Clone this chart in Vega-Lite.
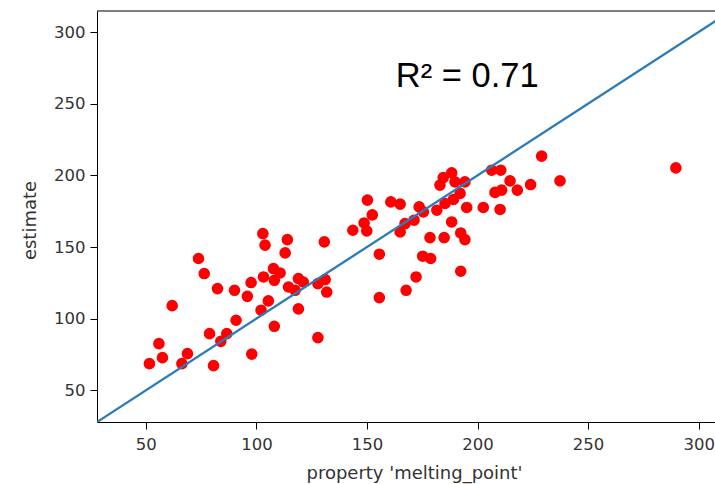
{
  "$schema": "https://vega.github.io/schema/vega-lite/v6.json",
  "width": 618,
  "height": 411,
  "autosize": {"type": "none"},
  "padding": {"left": 97, "top": 11, "right": 0, "bottom": 62},
  "background": "white",
  "config": {
    "view": {"stroke": null},
    "axis": {
      "grid": false,
      "domainColor": "black",
      "domainWidth": 1,
      "tickColor": "black",
      "tickWidth": 1,
      "tickSize": 7,
      "labelColor": "#333333",
      "labelFont": "DejaVu Sans",
      "labelFontSize": 16.5,
      "titleColor": "#333333",
      "titleFont": "DejaVu Sans",
      "titleFontSize": 18,
      "titleFontWeight": "normal"
    },
    "axisX": {"labelPadding": 7, "titleX": 317, "titleY": 56, "titleBaseline": "alphabetic", "titleAlign": "center"},
    "axisY": {"labelPadding": 5, "titleX": -62, "titleY": 209, "titleAngle": 270, "titleBaseline": "alphabetic", "titleAlign": "center"}
  },
  "layer": [
    {
      "data": {"values": [
        {"x":73.8,"y":142.0},{"x":76.4,"y":131.5},{"x":82.4,"y":121.0},{"x":90.1,"y":119.8},{"x":61.9,"y":109.1},
        {"x":90.8,"y":98.9},{"x":78.8,"y":89.6},{"x":86.6,"y":89.6},{"x":83.9,"y":84.2},{"x":55.9,"y":82.6},
        {"x":57.5,"y":72.8},{"x":51.6,"y":68.6},{"x":68.8,"y":75.6},{"x":66.3,"y":68.6},{"x":80.6,"y":67.2},
        {"x":97.9,"y":75.3},{"x":102.9,"y":159.4},{"x":103.9,"y":151.3},{"x":114.0,"y":155.2},{"x":113.0,"y":145.9},
        {"x":130.7,"y":153.6},{"x":107.7,"y":135.0},{"x":110.7,"y":131.9},{"x":103.2,"y":129.1},{"x":97.6,"y":125.2},
        {"x":108.1,"y":126.8},{"x":95.9,"y":115.6},{"x":114.5,"y":122.1},{"x":119.0,"y":128.0},{"x":121.2,"y":125.6},
        {"x":117.5,"y":119.8},{"x":127.8,"y":124.5},{"x":131.1,"y":127.3},{"x":131.8,"y":118.6},{"x":105.4,"y":112.4},
        {"x":102.1,"y":105.9},{"x":119.0,"y":106.8},{"x":108.1,"y":94.7},{"x":127.8,"y":86.8},{"x":150.2,"y":182.7},
        {"x":160.8,"y":181.5},{"x":165.0,"y":179.9},{"x":173.6,"y":178.0},{"x":152.4,"y":172.4},{"x":148.7,"y":166.8},
        {"x":143.6,"y":161.7},{"x":149.9,"y":161.2},{"x":183.0,"y":193.2},{"x":175.5,"y":174.5},{"x":181.6,"y":175.7},
        {"x":167.2,"y":166.4},{"x":171.3,"y":168.7},{"x":165.0,"y":160.5},{"x":188.3,"y":167.5},{"x":178.5,"y":156.6},
        {"x":184.9,"y":156.6},{"x":155.6,"y":145.0},{"x":175.2,"y":143.6},{"x":178.8,"y":142.0},{"x":172.2,"y":129.1},
        {"x":167.7,"y":119.8},{"x":155.6,"y":114.7},{"x":229.0,"y":213.4},{"x":237.3,"y":196.2},{"x":206.4,"y":203.6},
        {"x":210.5,"y":203.6},{"x":188.3,"y":201.7},{"x":184.5,"y":198.5},{"x":194.3,"y":195.5},{"x":214.7,"y":196.2},
        {"x":224.0,"y":193.6},{"x":218.0,"y":189.7},{"x":207.9,"y":188.1},{"x":210.9,"y":189.7},{"x":189.8,"y":195.5},
        {"x":192.1,"y":187.4},{"x":189.1,"y":183.2},{"x":185.3,"y":180.4},{"x":195.1,"y":177.6},{"x":202.6,"y":177.6},
        {"x":210.2,"y":176.2},{"x":192.4,"y":159.8},{"x":194.3,"y":155.2},{"x":192.4,"y":133.1},{"x":289.7,"y":205.2}
      ]},
      "mark": {"type": "point", "filled": true, "color": "#ff0000", "opacity": 1, "size": 135},
      "encoding": {
        "x": {"field": "x", "type": "quantitative", "title": "property 'melting_point'",
              "scale": {"domain": [27.9, 307.4], "nice": false, "zero": false},
              "axis": {"values": [50, 100, 150, 200, 250, 300]}},
        "y": {"field": "y", "type": "quantitative", "title": "estimate",
              "scale": {"domain": [27.9, 314.7], "nice": false, "zero": false},
              "axis": {"values": [50, 100, 150, 200, 250, 300]}}
      }
    },
    {
      "data": {"values": [{"x": 27.9, "y": 27.9}, {"x": 314.7, "y": 314.7}]},
      "mark": {"type": "line", "color": "#2b7bba", "strokeWidth": 2.3, "clip": true},
      "encoding": {
        "x": {"field": "x", "type": "quantitative", "title": "property 'melting_point'"},
        "y": {"field": "y", "type": "quantitative", "title": "estimate"}
      }
    },
    {
      "data": {"values": [{"top": 314.7}]},
      "mark": {"type": "rule", "color": "black", "strokeWidth": 1},
      "encoding": {"y": {"field": "top", "type": "quantitative", "title": "estimate"}}
    },
    {
      "data": {"values": [{"x": 163.0, "y": 261.8, "label": "R² = 0.71"}]},
      "mark": {"type": "text", "align": "left", "baseline": "alphabetic", "font": "Liberation Sans", "fontSize": 34.5, "color": "black"},
      "encoding": {
        "x": {"field": "x", "type": "quantitative", "title": "property 'melting_point'"},
        "y": {"field": "y", "type": "quantitative", "title": "estimate"},
        "text": {"field": "label"}
      }
    }
  ]
}
